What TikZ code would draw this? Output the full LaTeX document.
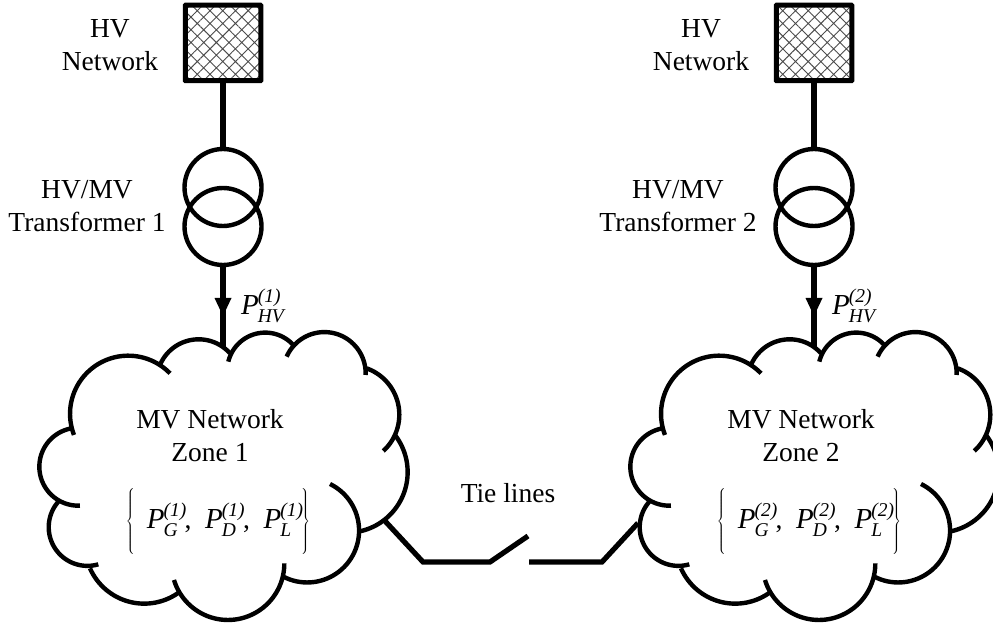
\documentclass[tikz,border=0pt]{standalone}
\usepackage{fontspec}
\setmainfont{Liberation Serif}
\usetikzlibrary{patterns.meta,arrows.meta}
\newcommand{\bigfont}{\fontsize{27.5}{33}\selectfont}
\newcommand{\PS}[2]{{\fontsize{29}{33}\selectfont\itshape P}\kern-1pt\rlap{\raisebox{11.5pt}{\fontsize{19.5}{20}\selectfont\itshape (#1)}}\raisebox{-8pt}{\fontsize{19.5}{20}\selectfont\itshape #2}}
\newcommand{\setlabel}[1]{$\left\{\vrule width 0pt height 27pt depth 27pt\hbox{\kern12pt\PS{#1}{G}\kern7pt,\ \ \PS{#1}{D}\kern7pt,\ \ \PS{#1}{L}\kern10pt}\right\}$}
% circular lobe through three points, given in the units of the cloud scope
\newcommand{\lobe}[6]{%
 \pgfmathsetmacro{\bx}{(#3-#1)/100}\pgfmathsetmacro{\by}{(#4-#2)/100}%
 \pgfmathsetmacro{\cx}{(#5-#1)/100}\pgfmathsetmacro{\cy}{(#6-#2)/100}%
 \pgfmathsetmacro{\dd}{2*(\bx*\cy-\by*\cx)}%
 \pgfmathsetmacro{\bb}{\bx*\bx+\by*\by}\pgfmathsetmacro{\cc}{\cx*\cx+\cy*\cy}%
 \pgfmathsetmacro{\ux}{(\cy*\bb-\by*\cc)/\dd}\pgfmathsetmacro{\uy}{(\bx*\cc-\cx*\bb)/\dd}%
 \pgfmathsetmacro{\rr}{100*sqrt(\ux*\ux+\uy*\uy)}%
 \pgfmathsetmacro{\aa}{atan2(-\uy,-\ux)}%
 \pgfmathsetmacro{\am}{atan2(\by-\uy,\bx-\ux)}%
 \pgfmathsetmacro{\ab}{atan2(\cy-\uy,\cx-\ux)}%
 \pgfmathsetmacro{\dm}{mod(\am-\aa+720,360)}\pgfmathsetmacro{\db}{mod(\ab-\aa+720,360)}%
 \pgfmathsetmacro{\sweep}{\dm<\db?\db:\db-360}%
 \pgfmathsetmacro{\ox}{#1+100*\ux}\pgfmathsetmacro{\oy}{#2+100*\uy}%
 \draw plot[domain=0:1,samples=48,smooth] ({\ox+\rr*cos(\aa+\sweep*\x)},{\oy+\rr*sin(\aa+\sweep*\x)});}
\newcommand{\cloudarcs}{%
 \begin{scope}[shift={(0,320)},x=0.3333pt,y=-0.3333pt,cloudline]
 \lobe{510}{160}{270}{150}{222}{345}
 \lobe{215}{325}{118}{440}{240}{557}
 \lobe{175}{545}{165}{685}{295}{733}
 \lobe{270}{745}{400}{848}{540}{815}
 \lobe{522}{780}{680}{900}{853}{730}
 \lobe{850}{770}{1050}{720}{990}{492}
 \lobe{1075}{635}{1200}{545}{1185}{345}
 \lobe{1150}{393}{1198}{280}{1100}{145}
 \lobe{1097}{165}{1030}{50}{860}{110}
 \lobe{880}{75}{790}{38}{685}{125}
 \lobe{690}{100}{600}{58}{480}{135}
 \end{scope}}
\tikzset{
 cloudline/.style={line width=4.4pt,line cap=butt},
 wire/.style={line width=5.2pt},
 txt/.style={font=\bigfont,align=center,inner sep=0pt,text=black},
 source/.style={draw,line width=5pt,rounded corners=0.5pt,minimum size=75.5pt,inner sep=0pt,outer sep=2.5pt,
   pattern={Hatch[angle=45,distance=9pt,line width=0.9pt]},pattern color=black!70},
 winding/.style={draw,circle,line width=4.4pt,minimum size=77pt,inner sep=0pt,outer sep=2pt},
 flowtip/.style={fill=black,draw=none},
}
\begin{document}
\begin{tikzpicture}[x=1pt,y=-1pt]
\useasboundingbox (0,0) rectangle (993,628);
\clip (0,0) rectangle (993,628);
% left column
\cloudarcs
\node[source] (s1) at (223,43) {};
\node[winding] (ta1) at (223,187.5) {};
\node[winding] (tb1) at (223,226.5) {};
\coordinate (c1) at (223,347);
\draw[wire] (s1.south) -- (ta1.north);
\draw[wire] (tb1.south) -- (c1);
\fill[flowtip] (214.5,298) -- (231.5,298) -- (223,316) -- cycle;
\node[txt] (lhv1) at (110,45) {HV\\Network};
\node[txt] (lt1) at (87,206.5) {HV/MV\\Transformer 1};
\node[txt,anchor=west] (lp1) at (241,306) {\PS{1}{HV}};
\node[txt] (lz1) at (210,436) {MV Network\\Zone 1};
\node[txt] (ls1) at (218,522) {\setlabel{1}};
% right column
\begin{scope}[xshift=591pt]
\cloudarcs
\node[source] (s2) at (223,43) {};
\node[winding] (ta2) at (223,187.5) {};
\node[winding] (tb2) at (223,226.5) {};
\coordinate (c2) at (223,347);
\draw[wire] (s2.south) -- (ta2.north);
\draw[wire] (tb2.south) -- (c2);
\fill[flowtip] (214.5,298) -- (231.5,298) -- (223,316) -- cycle;
\node[txt] (lhv2) at (110,45) {HV\\Network};
\node[txt] (lt2) at (87,206.5) {HV/MV\\Transformer 2};
\node[txt,anchor=west] (lp2) at (241,306) {\PS{2}{HV}};
\node[txt] (lz2) at (210,436) {MV Network\\Zone 2};
\node[txt] (ls2) at (218,522) {\setlabel{2}};
\end{scope}
% tie lines
\coordinate (z1) at (385,521);
\coordinate (z2) at (638,523);
\coordinate (b1) at (423,562);
\coordinate (b2) at (490,562);
\coordinate (b3) at (528,536);
\coordinate (b4) at (529,562);
\coordinate (b5) at (602,562);
\draw[wire,line join=miter] (z1) -- (b1) -- (b2) -- (b3);
\draw[wire,line join=miter] (b4) -- (b5) -- (z2);
\node[txt] (tie) at (508,493) {Tie lines};
\end{tikzpicture}
\end{document}
